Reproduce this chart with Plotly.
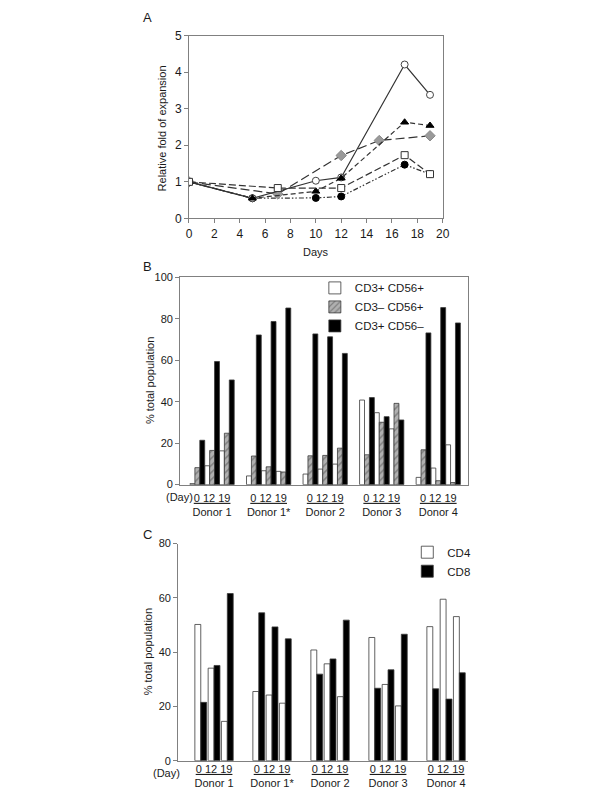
import plotly.graph_objects as go

# ---------------- Panel A data ----------------
open_circle_days = [0, 5, 10, 12, 17, 19]
open_circle_vals = [1.0, 0.55, 1.03, 1.12, 4.21, 3.38]
triangle_days = [0, 5, 10, 12, 17, 19]
triangle_vals = [1.0, 0.55, 0.74, 1.10, 2.63, 2.54]
diamond_days = [0, 7, 12, 15, 19]
diamond_vals = [1.0, 0.67, 1.72, 2.13, 2.26]
square_days = [0, 7, 12, 17, 19]
square_vals = [1.0, 0.83, 0.83, 1.73, 1.21]
filled_circle_days = [0, 5, 10, 12, 17, 19]
filled_circle_vals = [1.0, 0.55, 0.56, 0.60, 1.47, 1.21]

# ---------------- Panel B data ----------------
donors = ["Donor 1", "Donor 1*", "Donor 2", "Donor 3", "Donor 4"]
day_labels = ["0", "12", "19"]
cd3p_cd56p = [[0.5, 9.1, 16.3], [4.2, 6.7, 6.4], [5.1, 7.5, 9.9], [40.8, 34.7, 26.9], [3.5, 8.0, 19.2]]
cd3n_cd56p = [[8.2, 16.5, 24.8], [13.8, 8.6, 6.1], [13.9, 14.1, 17.6], [14.4, 30.1, 39.2], [16.8, 1.9, 1.0]]
cd3p_cd56n = [[21.4, 59.4, 50.5], [72.2, 78.7, 85.2], [72.7, 71.3, 63.3], [42.0, 32.8, 31.2], [73.2, 85.4, 78.0]]

# ---------------- Panel C data ----------------
cd4 = [[50.2, 34.1, 14.5], [25.5, 24.2, 21.2], [40.8, 35.7, 23.6], [45.4, 28.1, 20.2], [49.4, 59.5, 53.1]]
cd8 = [[21.5, 35.1, 61.6], [54.5, 49.3, 44.9], [31.9, 37.5, 51.8], [26.7, 33.5, 46.6], [26.5, 22.7, 32.4]]

W, H = 600, 800
OFF = 8  # page body margin offset in the browser
def px(x):
    return (x - OFF) / W
def py(y):
    return 1 - (y - OFF) / H

FONT = "Liberation Sans, Arial, Helvetica, sans-serif"
TXT = "#1a1a1a"
AXC = "#808080"
LC = "#333333"

fig = go.Figure()

# ---------------- Panel A ----------------
a_series = [
    (filled_circle_days, filled_circle_vals, "circle", "black", "black", "5px,2px,1.5px,2px,1.5px,2px", 7),
    (diamond_days, diamond_vals, "diamond", "#9a9a9a", "#8a8a8a", "9px,4px", 8),
    (open_circle_days, open_circle_vals, "circle", "white", "#444444", "solid", 7),
    (triangle_days, triangle_vals, "triangle-up", "black", "black", "5px,3px", 7),
    (square_days, square_vals, "square", "white", LC, "7px,3px", 7),
]
for xs, ys, sym, fill, lcol, dash, size in a_series:
    fig.add_trace(go.Scatter(
        x=xs, y=ys, mode="lines+markers", showlegend=False,
        line=dict(color=LC, width=1.2, dash=dash),
        marker=dict(symbol=sym, size=size, color=fill, line=dict(color=lcol, width=1)),
        xaxis="x", yaxis="y"))

# ---------------- Panel B ----------------
B_DONOR = 11.5
B_DAY = 3
line_b = dict(color="#3a3a3a", width=0.8)
b_series = [
    ("CD3+ CD56+", cd3p_cd56p, dict(color="white", line=line_b)),
    ("CD3\u2013 CD56+", cd3n_cd56p, dict(color="#b0b0b0", line=line_b,
                                     pattern=dict(shape="/", fgcolor="#505050", bgcolor="#b0b0b0", size=5, solidity=0.3))),
    ("CD3+ CD56\u2013", cd3p_cd56n, dict(color="black", line=line_b)),
]
for s, (name, vals, marker) in enumerate(b_series):
    xs, ys = [], []
    for d in range(len(donors)):
        for k in range(len(day_labels)):
            xs.append(d * B_DONOR + k * B_DAY + s)
            ys.append(vals[d][k])
    fig.add_trace(go.Bar(x=xs, y=ys, width=1.0, name=name, marker=marker,
                         xaxis="x2", yaxis="y2", legend="legend"))

# ---------------- Panel C ----------------
C_DONOR = 9.83
C_DAY = 2.25
c_series = [
    ("CD4", cd4, dict(color="white", line=line_b)),
    ("CD8", cd8, dict(color="black", line=line_b)),
]
for s, (name, vals, marker) in enumerate(c_series):
    xs, ys = [], []
    for d in range(len(donors)):
        for k in range(len(day_labels)):
            xs.append(d * C_DONOR + k * C_DAY + s)
            ys.append(vals[d][k])
    fig.add_trace(go.Bar(x=xs, y=ys, width=1.0, name=name, marker=marker,
                         xaxis="x3", yaxis="y3", legend="legend2"))

tick_text = ["<u>" + " ".join(day_labels) + "</u><br>" + dn for dn in donors]
b_ticks = [d * B_DONOR + (2 * B_DAY + 2) / 2 for d in range(len(donors))]
c_ticks = [d * C_DONOR + (2 * C_DAY + 1) / 2 for d in range(len(donors))]

axis_common = dict(showline=True, linecolor=AXC, linewidth=1, showgrid=False, zeroline=False,
                   tickfont=dict(family=FONT, size=11, color=TXT), ticks="outside",
                   tickcolor=AXC, ticklen=4)

fig.update_layout(
    width=W, height=H, margin=dict(l=0, r=0, t=0, b=0),
    paper_bgcolor="white", plot_bgcolor="white",
    font=dict(family=FONT, color=TXT, size=11),
    barmode="overlay",
    xaxis=dict(axis_common, domain=[px(189), px(447)], range=[0, 20], dtick=2, mirror=True,
               anchor="y", tickfont=dict(family=FONT, size=12, color=TXT)),
    yaxis=dict(axis_common, domain=[py(215), py(29)], range=[0, 5], dtick=1, mirror=True,
               anchor="x", tickfont=dict(family=FONT, size=12, color=TXT)),
    xaxis2=dict(axis_common, domain=[px(180), px(473)], range=[-2.5, 56.1], mirror=True, anchor="y2",
                ticks="", tickvals=b_ticks, ticktext=tick_text, ticklabelstandoff=3),
    yaxis2=dict(axis_common, domain=[py(486), py(275)], range=[0, 100], dtick=20, mirror=True, anchor="x2"),
    xaxis3=dict(axis_common, domain=[px(178), px(473)], range=[-3.33, 45.83], anchor="y3",
                ticks="", tickvals=c_ticks, ticktext=tick_text, ticklabelstandoff=-2),
    yaxis3=dict(axis_common, domain=[py(767), py(546)], range=[0, 80], dtick=20, anchor="x3"),
    legend=dict(x=px(317), y=py(271), xanchor="left", yanchor="top", bgcolor="rgba(0,0,0,0)",
                font=dict(family=FONT, size=11.5, color=TXT), itemwidth=30, tracegroupgap=0),
    legend2=dict(x=px(411), y=py(540), xanchor="left", yanchor="top", bgcolor="rgba(0,0,0,0)",
                 font=dict(family=FONT, size=11.5, color=TXT), itemwidth=30, tracegroupgap=0),
)

def note(text, x, y, size=11, angle=0, xanchor="center"):
    fig.add_annotation(text=text, x=px(x), y=py(y), xref="paper", yref="paper",
                       showarrow=False, textangle=angle, xanchor=xanchor, yanchor="middle",
                       font=dict(family=FONT, size=size, color=TXT))

note("A", 147, 11, size=13)
note("B", 147, 264, size=13)
note("C", 147, 537, size=13)
note("Relative fold of expansion", 162, 123, size=11, angle=-90)
note("Days", 318, 249, size=11)
note("% total population", 150, 380, size=11, angle=-90)
note("% total population", 147, 656, size=11, angle=-90)
note("(Day)", 179, 499, size=11)
note("(Day)", 166, 779, size=11)

fig.write_html("out.html")
